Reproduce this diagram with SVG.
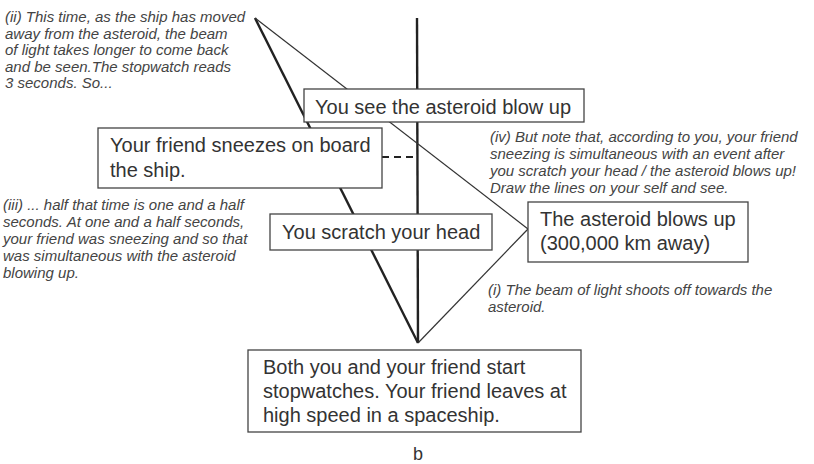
<svg xmlns="http://www.w3.org/2000/svg" width="814" height="464" viewBox="0 0 814 464">
<style>
.box rect{fill:#fff;stroke:#444;stroke-width:1.3}
.box text{font-family:"Liberation Sans",Arial,sans-serif;font-size:20px;fill:#333}
.note{font-family:"Liberation Sans",Arial,sans-serif;font-size:15px;font-style:italic;fill:#444}
.thick{stroke:#222;stroke-width:2.4;fill:none}
.thin{stroke:#333;stroke-width:1.2;fill:none}
</style>
<rect width="814" height="464" fill="#fff"/>
<g id="connectors">
<line class="thick" x1="417" y1="18" x2="418" y2="343"/>
<line class="thick" x1="255" y1="18" x2="418" y2="343"/>
<line class="thin" x1="255" y1="18" x2="528" y2="229"/>
<line class="thin" x1="528" y1="229" x2="418" y2="343"/>
<line x1="382" y1="157" x2="417" y2="157" stroke="#222" stroke-width="2.2" stroke-dasharray="7,5"/>
</g>
<g id="note-ii" class="note">
<text x="5" y="22">(ii) This time, as the ship has moved</text>
<text x="5" y="38.5">away from the asteroid, the beam</text>
<text x="5" y="55">of light takes longer to come back</text>
<text x="5" y="71.5">and be seen.The stopwatch reads</text>
<text x="5" y="88">3 seconds. So...</text>
</g>
<g id="see" class="box">
<rect x="304" y="89" width="280" height="33"/>
<text x="315" y="114">You see the asteroid blow up</text>
</g>
<g id="sneeze" class="box">
<rect x="98" y="128" width="284" height="60"/>
<text x="110" y="152">Your friend sneezes on board</text>
<text x="110" y="177">the ship.</text>
</g>
<g id="note-iv" class="note">
<text x="490" y="142">(iv) But note that, according to you, your friend</text>
<text x="490" y="159">sneezing is simultaneous with an event after</text>
<text x="490" y="176">you scratch your head / the asteroid blows up!</text>
<text x="490" y="193">Draw the lines on your self and see.</text>
</g>
<g id="note-iii" class="note">
<text x="3" y="210">(iii) ... half that time is one and a half</text>
<text x="3" y="227">seconds. At one and a half seconds,</text>
<text x="3" y="244">your friend was sneezing and so that</text>
<text x="3" y="261">was simultaneous with the asteroid</text>
<text x="3" y="278">blowing up.</text>
</g>
<g id="scratch" class="box">
<rect x="270" y="214" width="222" height="36"/>
<text x="282" y="239">You scratch your head</text>
</g>
<g id="asteroid" class="box">
<rect x="528" y="202" width="220" height="60"/>
<text x="540" y="226">The asteroid blows up</text>
<text x="540" y="250">(300,000 km away)</text>
</g>
<g id="note-i" class="note">
<text x="488" y="295">(i) The beam of light shoots off towards the</text>
<text x="488" y="312">asteroid.</text>
</g>
<g id="start" class="box">
<rect x="248" y="350" width="333" height="82"/>
<text x="263" y="374">Both you and your friend start</text>
<text x="263" y="398">stopwatches. Your friend leaves at</text>
<text x="263" y="422">high speed in a spaceship.</text>
</g>
<text x="418" y="460" text-anchor="middle" font-family="Liberation Sans, Arial, sans-serif" font-size="18" fill="#333">b</text>
</svg>
